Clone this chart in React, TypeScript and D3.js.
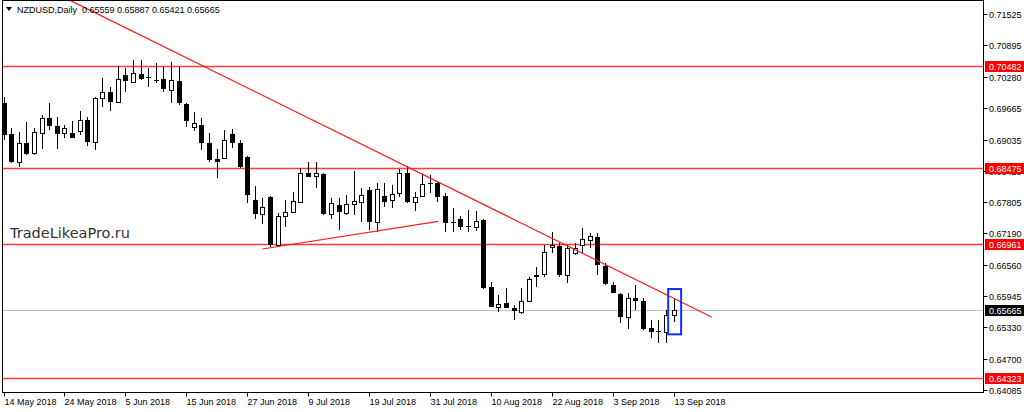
import { useEffect, useRef } from "react";
import * as d3 from "d3";

// NZDUSD daily bars, 14 May 2018 .. 13 Sep 2018
const OPEN = [
  0.69756, 0.69144, 0.6859, 0.68966, 0.68768, 0.69163, 0.6946, 0.69302, 0.69163, 0.69163,
  0.69203, 0.6942, 0.68985, 0.69855, 0.69974, 0.69776, 0.7031, 0.70171, 0.70329, 0.7027,
  0.70211, 0.70231, 0.70013, 0.70191, 0.69736, 0.69282, 0.69321, 0.68966, 0.68649, 0.68669,
  0.69144, 0.68966, 0.68689, 0.67839, 0.67563, 0.67899, 0.6695, 0.67523, 0.67602, 0.678,
  0.68373, 0.68313, 0.68353, 0.67563, 0.6774, 0.67582, 0.6776, 0.678, 0.68037, 0.67404,
  0.67918, 0.67839, 0.67978, 0.68373, 0.678, 0.67918, 0.68175, 0.68175, 0.67918, 0.67404,
  0.67464, 0.67325, 0.67306, 0.67444, 0.6612, 0.65725, 0.65804, 0.65705, 0.65626, 0.65843,
  0.66357, 0.66377, 0.6691, 0.6693, 0.66357, 0.66792, 0.6695, 0.67049, 0.67108, 0.66535,
  0.66159, 0.65982, 0.65527, 0.65902, 0.65843, 0.6531, 0.6525, 0.6523, 0.65559,
];
const HIGH = [
  0.69875, 0.69262, 0.69183, 0.69381, 0.69262, 0.69519, 0.69756, 0.6948, 0.69321, 0.694,
  0.69598, 0.6948, 0.69875, 0.7025, 0.70072, 0.70487, 0.70448, 0.70606, 0.70606, 0.70448,
  0.70547, 0.70468, 0.70567, 0.70468, 0.69756, 0.69578, 0.6946, 0.69163, 0.68847, 0.69223,
  0.69242, 0.69025, 0.687, 0.68116, 0.67879, 0.6791, 0.67582, 0.67839, 0.67997, 0.68472,
  0.6859, 0.6859, 0.68373, 0.67879, 0.67879, 0.67938, 0.68412, 0.68076, 0.68096, 0.68175,
  0.68175, 0.68136, 0.68452, 0.68511, 0.67997, 0.68333, 0.68333, 0.68195, 0.67978, 0.67681,
  0.67523, 0.67642, 0.67622, 0.67464, 0.66219, 0.65962, 0.661, 0.65764, 0.661, 0.66317,
  0.66515, 0.6695, 0.67207, 0.66989, 0.6695, 0.66989, 0.67286, 0.67187, 0.67187, 0.66594,
  0.66219, 0.66001, 0.66001, 0.66159, 0.65902, 0.65468, 0.65468, 0.65665, 0.65887,
];
const LOW = [
  0.69025, 0.6857, 0.68491, 0.68729, 0.68729, 0.68847, 0.69223, 0.68847, 0.69065, 0.69055,
  0.69124, 0.68906, 0.68827, 0.69677, 0.69598, 0.69756, 0.69974, 0.70152, 0.70211, 0.70072,
  0.70152, 0.69974, 0.69756, 0.69717, 0.69282, 0.69203, 0.68827, 0.6859, 0.68274, 0.68655,
  0.68867, 0.68472, 0.6778, 0.67464, 0.67365, 0.6691, 0.6691, 0.67306, 0.67582, 0.6779,
  0.6829, 0.68076, 0.67543, 0.67464, 0.67246, 0.67543, 0.67543, 0.67404, 0.67246, 0.67207,
  0.67701, 0.67681, 0.67899, 0.6778, 0.67622, 0.67895, 0.67978, 0.678, 0.67207, 0.67207,
  0.67246, 0.67207, 0.67227, 0.6609, 0.6572, 0.65626, 0.657, 0.65468, 0.65586, 0.65823,
  0.6612, 0.66317, 0.66792, 0.66317, 0.66199, 0.66752, 0.66792, 0.66891, 0.66357, 0.66159,
  0.65995, 0.65408, 0.6529, 0.65665, 0.6527, 0.65112, 0.65013, 0.65013, 0.65421,
];
const CLOSE = [
  0.69124, 0.6859, 0.68966, 0.68748, 0.69183, 0.6946, 0.69302, 0.69144, 0.69262, 0.69065,
  0.6942, 0.68985, 0.69855, 0.69974, 0.69776, 0.70231, 0.70191, 0.70349, 0.70231, 0.7026,
  0.70191, 0.70033, 0.70211, 0.69756, 0.694, 0.69361, 0.68966, 0.6863, 0.6859, 0.69025,
  0.68966, 0.68491, 0.67938, 0.67563, 0.67701, 0.6695, 0.67523, 0.67602, 0.67819, 0.68373,
  0.68294, 0.68373, 0.67563, 0.6778, 0.67602, 0.6776, 0.67819, 0.67938, 0.67404, 0.68057,
  0.678, 0.67958, 0.68373, 0.678, 0.67899, 0.68155, 0.68155, 0.67899, 0.67385, 0.67385,
  0.67306, 0.67306, 0.67424, 0.661, 0.65725, 0.65784, 0.65705, 0.65645, 0.65843, 0.66278,
  0.66317, 0.66812, 0.6695, 0.66357, 0.66891, 0.66891, 0.67068, 0.67128, 0.66555, 0.66179,
  0.66001, 0.65527, 0.65902, 0.65843, 0.6529, 0.6523, 0.6524, 0.65567, 0.65665,
];

const DATE_TICKS = [
  { i: 0, label: "14 May 2018" },
  { i: 8, label: "24 May 2018" },
  { i: 16, label: "5 Jun 2018" },
  { i: 24, label: "15 Jun 2018" },
  { i: 32, label: "27 Jun 2018" },
  { i: 40, label: "9 Jul 2018" },
  { i: 48, label: "19 Jul 2018" },
  { i: 56, label: "31 Jul 2018" },
  { i: 64, label: "10 Aug 2018" },
  { i: 72, label: "22 Aug 2018" },
  { i: 80, label: "3 Sep 2018" },
  { i: 88, label: "13 Sep 2018" },
];
const PRICE_TICKS = [
  0.71525, 0.70895, 0.7028, 0.69665, 0.69035, 0.6842, 0.67805, 0.6719, 0.6656, 0.65945,
  0.6533, 0.647, 0.64085,
];
const LEVELS = [0.70482, 0.68475, 0.66961, 0.64323];
const BID = 0.65665;
const HEADER = "NZDUSD,Daily  0.65559 0.65887 0.65421 0.65665";
const WATERMARK = "TradeLikeaPro.ru";

// trend lines as (bar index, price) anchors
const TREND_DOWN = [
  { i: 8.8, p: 0.7178 },
  { i: 93, p: 0.65527 },
];
const TREND_UP = [
  { i: 34, p: 0.66871 },
  { i: 57.1, p: 0.67418 },
];
const BOX = { i0: 87.3, i1: 89.0, p0: 0.6608, p1: 0.65185 };

const W = 1024;
const H = 412;
const PLOT = { left: 2.5, right: 983.5, top: 0.5, bottom: 392.5 };
const FONT = "'Liberation Sans', Arial, sans-serif";

export default function App() {
  const svgRef = useRef<SVGSVGElement>(null);

  useEffect(() => {
    if (!svgRef.current) return;
    const svg = d3.select(svgRef.current);
    svg.selectAll("*").remove();

    const x = d3.scaleLinear().domain([0, 88]).range([3.5, 673.5]);
    const y = d3.scaleLinear().domain([0.64085, 0.71525]).range([390, 13.5]);

    svg.append("rect").attr("width", W).attr("height", H).attr("fill", "#fff");

    svg
      .append("defs")
      .append("clipPath")
      .attr("id", "plot-clip")
      .append("rect")
      .attr("x", PLOT.left)
      .attr("y", PLOT.top)
      .attr("width", PLOT.right - PLOT.left)
      .attr("height", PLOT.bottom - PLOT.top);

    const plot = svg.append("g").attr("clip-path", "url(#plot-clip)");

    // horizontal levels
    plot
      .selectAll("line.level")
      .data(LEVELS)
      .join("line")
      .attr("x1", PLOT.left)
      .attr("x2", PLOT.right)
      .attr("y1", (d) => Math.round(y(d)) + 0.5)
      .attr("y2", (d) => Math.round(y(d)) + 0.5)
      .attr("stroke", "#ff3b3b")
      .attr("stroke-width", 1.5);

    // bid line
    plot
      .append("line")
      .attr("x1", PLOT.left)
      .attr("x2", PLOT.right)
      .attr("y1", Math.round(y(BID)) + 0.5)
      .attr("y2", Math.round(y(BID)) + 0.5)
      .attr("stroke", "#c0c0c0")
      .attr("stroke-width", 1);

    // candles
    const bars = OPEN.map((o, i) => ({ i, o, h: HIGH[i], l: LOW[i], c: CLOSE[i] }));
    const candles = plot.append("g").attr("shape-rendering", "crispEdges");
    bars.forEach((b) => {
      const cx = Math.round(x(b.i)) + 0.5;
      candles
        .append("line")
        .attr("x1", cx)
        .attr("x2", cx)
        .attr("y1", Math.round(y(b.h)))
        .attr("y2", Math.round(y(b.l)))
        .attr("stroke", "#000")
        .attr("stroke-width", 1);
      const top = Math.round(y(Math.max(b.o, b.c)));
      const bot = Math.round(y(Math.min(b.o, b.c)));
      if (b.c >= b.o) {
        candles
          .append("rect")
          .attr("x", cx - 2)
          .attr("y", top + 0.5)
          .attr("width", 4)
          .attr("height", Math.max(1, bot - top))
          .attr("fill", "#fff")
          .attr("stroke", "#000")
          .attr("stroke-width", 1);
      } else {
        candles
          .append("rect")
          .attr("x", cx - 2.5)
          .attr("y", top)
          .attr("width", 5)
          .attr("height", Math.max(1, bot - top))
          .attr("fill", "#000");
      }
    });

    // trend lines
    const trend = d3
      .line<{ i: number; p: number }>()
      .x((d) => x(d.i))
      .y((d) => y(d.p));
    [TREND_DOWN, TREND_UP].forEach((t) => {
      plot
        .append("path")
        .datum(t)
        .attr("d", trend)
        .attr("fill", "none")
        .attr("stroke", "#ff1a1a")
        .attr("stroke-width", 1.2);
    });

    // highlight box on last bar
    plot
      .append("rect")
      .attr("x", x(BOX.i0))
      .attr("y", y(BOX.p0))
      .attr("width", x(BOX.i1) - x(BOX.i0))
      .attr("height", y(BOX.p1) - y(BOX.p0))
      .attr("fill", "none")
      .attr("stroke", "#1030ff")
      .attr("stroke-width", 2);

    // watermark
    svg
      .append("text")
      .attr("x", 10)
      .attr("y", 238)
      .attr("font-family", "'DejaVu Sans', sans-serif")
      .attr("font-size", "14.5px")
      .attr("fill", "#333")
      .text(WATERMARK);

    // header
    svg
      .append("path")
      .attr("d", "M6,7 L12,7 L9,11 Z")
      .attr("fill", "#000");
    svg
      .append("text")
      .attr("x", 17)
      .attr("y", 13)
      .attr("font-family", FONT)
      .attr("font-size", "9px")
      .attr("fill", "#000")
      .attr("xml:space", "preserve")
      .style("white-space", "pre")
      .text(HEADER);

    // frame
    svg
      .append("rect")
      .attr("x", PLOT.left)
      .attr("y", PLOT.top)
      .attr("width", PLOT.right - PLOT.left)
      .attr("height", PLOT.bottom - PLOT.top)
      .attr("fill", "none")
      .attr("stroke", "#000")
      .attr("stroke-width", 1);

    // price axis
    const pa = svg.append("g").attr("font-family", FONT).attr("font-size", "9px");
    PRICE_TICKS.forEach((p) => {
      const py = Math.round(y(p)) + 0.5;
      pa.append("line")
        .attr("x1", PLOT.right)
        .attr("x2", PLOT.right + 4)
        .attr("y1", py)
        .attr("y2", py)
        .attr("stroke", "#000");
      pa.append("text")
        .attr("x", 989)
        .attr("y", py + 3.5)
        .attr("fill", "#000")
        .text(p.toFixed(5));
    });

    const tag = (p: number, bg: string) => {
      const py = Math.round(y(p)) + 0.5;
      pa.append("rect")
        .attr("x", 985)
        .attr("y", py - 5.5)
        .attr("width", 39)
        .attr("height", 11)
        .attr("fill", bg);
      pa.append("text")
        .attr("x", 989)
        .attr("y", py + 3.5)
        .attr("fill", "#fff")
        .text(p.toFixed(5));
    };
    LEVELS.forEach((p) => tag(p, "#ff0000"));
    tag(BID, "#000");

    // date axis
    const da = svg.append("g").attr("font-family", FONT).attr("font-size", "9px");
    DATE_TICKS.forEach((t) => {
      const tx = Math.round(x(t.i)) + 0.5;
      da.append("line")
        .attr("x1", tx)
        .attr("x2", tx)
        .attr("y1", PLOT.bottom)
        .attr("y2", PLOT.bottom + 4)
        .attr("stroke", "#000");
      da.append("text")
        .attr("x", tx)
        .attr("y", 405)
        .attr("fill", "#000")
        .text(t.label);
    });
  }, []);

  return (
    <svg
      ref={svgRef}
      width={W}
      height={H}
      style={{ position: "absolute", left: 0, top: 0, display: "block" }}
    />
  );
}
